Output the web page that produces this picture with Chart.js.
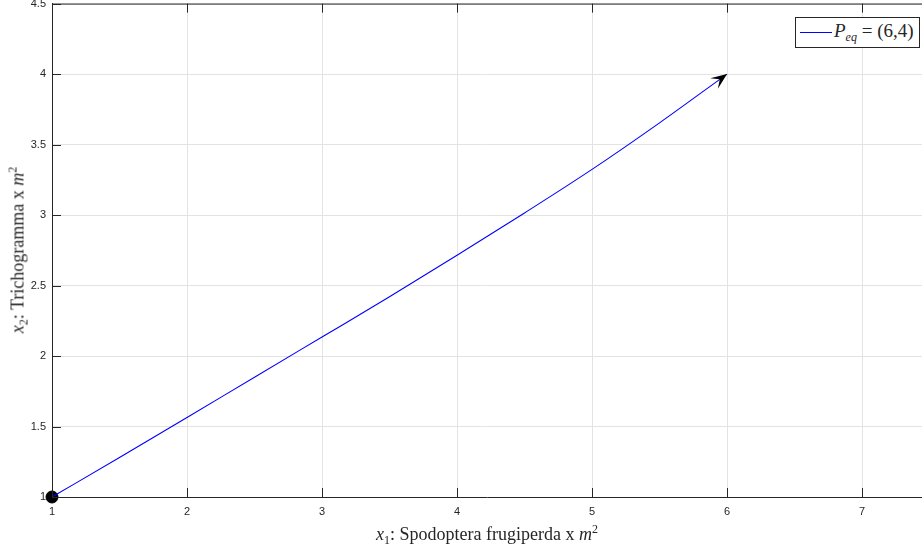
<!DOCTYPE html>
<html>
<head>
<meta charset="utf-8">
<script src="https://cdn.jsdelivr.net/npm/chart.js@4.4.1/dist/chart.umd.min.js"></script>
<style>
  html, body { margin: 0; padding: 0; background: #fff; overflow: hidden; }
  #wrap { position: relative; width: 922px; height: 548px; overflow: hidden; }
  canvas { position: absolute; left: 0; top: -9px; }
  .tex { position: absolute; font-family: "Liberation Serif", "DejaVu Serif", serif; color: #262626; white-space: nowrap; }
  #xtitle { left: 0; width: 974px; top: 524px; text-align: center; font-size: 18px; }
  #ytitle { left: 18px; top: 250px; font-size: 18px; transform: translate(-50%, -50%) rotate(-90deg); }
  #legend { left: 795px; top: 17px; width: 125px; height: 31px; border: 1px solid #262626; background: #fff; box-sizing: border-box; font-size: 19px; line-height: 28px; }
  #legend .ln { position: absolute; left: 4px; top: 14px; width: 32px; height: 1px; background: #0000ff; display: block; }
  #legend .tx { position: absolute; left: 38px; top: -1px; }
  sub { font-size: 12px; vertical-align: -4px; line-height: 0; }
  sup { font-size: 12px; vertical-align: 7px; line-height: 0; }
</style>
</head>
<body>
<div id="wrap">
  <canvas id="c" width="929" height="557"></canvas>
  <div id="xtitle" class="tex"><i>x</i><sub>1</sub>: Spodoptera frugiperda x <i>m</i><sup>2</sup></div>
  <div id="ytitle" class="tex"><i>x</i><sub>2</sub>: Trichogramma x <i>m</i><sup>2</sup></div>
  <div id="legend" class="tex"><span class="ln"></span><span class="tx"><i>P</i><sub><i>eq</i></sub> = (6,4)</span></div>
</div>
<script>
// ---- data ----
const x1Values = [1, 1.5, 2, 2.5, 3, 3.5, 4, 4.5, 5, 5.5, 6];
const x2Values = [1, 1.28, 1.564, 1.85, 2.135, 2.42, 2.715, 3.015, 3.324, 3.654, 4];
const startPoint = [1, 1];
const xTicks = [1, 2, 3, 4, 5, 6, 7];
const yTicks = [1, 1.5, 2, 2.5, 3, 3.5, 4, 4.5];
const xRange = [1, 7.444];
const yRange = [1, 4.5];

const axisColor = '#262626';
const gridColor = '#e3e3e3';

const boxPlugin = {
  id: 'boxPlugin',
  afterDatasetsDraw(chart) {
    const ctx = chart.ctx;
    const a = chart.chartArea;
    const xs = chart.scales.x, ys = chart.scales.y;
    ctx.save();
    ctx.strokeStyle = axisColor;
    ctx.lineWidth = 1;
    ctx.beginPath();
    ctx.moveTo(a.left, a.top + 0.5);
    ctx.lineTo(a.right, a.top + 0.5);
    const tl = 9;
    xTicks.forEach(v => {
      const px = Math.round(xs.getPixelForValue(v)) + 0.5;
      ctx.moveTo(px, a.bottom); ctx.lineTo(px, a.bottom - tl);
      ctx.moveTo(px, a.top); ctx.lineTo(px, a.top + tl);
    });
    yTicks.forEach(v => {
      const py = Math.round(ys.getPixelForValue(v)) + 0.5;
      ctx.moveTo(a.left, py); ctx.lineTo(a.left + tl, py);
    });
    ctx.stroke();

    // arrowhead at the end of the trajectory
    const n = x1Values.length;
    const ex = xs.getPixelForValue(x1Values[n - 1]);
    const ey = ys.getPixelForValue(x2Values[n - 1]);
    const bx = xs.getPixelForValue(x1Values[n - 2]);
    const by = ys.getPixelForValue(x2Values[n - 2]);
    const ang = Math.atan2(ey - by, ex - bx);
    const L = 16, W = 6.5, notch = 9;
    ctx.translate(ex, ey);
    ctx.rotate(ang);
    ctx.fillStyle = '#000';
    ctx.beginPath();
    ctx.moveTo(0, 0);
    ctx.lineTo(-L, -W);
    ctx.lineTo(-notch, 0);
    ctx.lineTo(-L, W);
    ctx.closePath();
    ctx.fill();
    ctx.restore();
  }
};

new Chart(document.getElementById('c'), {
  type: 'scatter',
  data: {
    datasets: [
      {
        label: 'Peq',
        data: x1Values.map((v, i) => ({ x: v, y: x2Values[i] })),
        showLine: true,
        borderColor: '#0000ff',
        borderWidth: 1.1,
        pointRadius: 0,
        cubicInterpolationMode: 'monotone',
        fill: false
      },
      {
        label: 'start',
        data: [{ x: startPoint[0], y: startPoint[1] }],
        pointRadius: 6,
        pointBackgroundColor: '#000',
        pointBorderColor: '#000',
        showLine: false,
        clip: false
      }
    ]
  },
  options: {
    responsive: false,
    animation: false,
    layout: { padding: { top: 4, right: 0, left: 0, bottom: 0 } },
    plugins: { legend: { display: false }, tooltip: { enabled: false } },
    scales: {
      x: {
        type: 'linear',
        min: xRange[0], max: xRange[1],
        afterBuildTicks: s => { s.ticks = xTicks.map(v => ({ value: v })); },
        afterFit: s => { s.height = 51; },
        grid: { color: gridColor, drawTicks: false },
        border: { color: axisColor, width: 1 },
        ticks: { color: axisColor, padding: 8, font: { family: 'Liberation Sans, Arial, sans-serif', size: 11 }, callback: v => String(v) }
      },
      y: {
        type: 'linear',
        min: yRange[0], max: yRange[1],
        afterBuildTicks: s => { s.ticks = yTicks.map(v => ({ value: v })); },
        afterFit: s => { s.width = 52; },
        grid: { color: gridColor, drawTicks: false },
        border: { color: axisColor, width: 1 },
        ticks: { color: axisColor, padding: 6, font: { family: 'Liberation Sans, Arial, sans-serif', size: 11 }, callback: v => String(v) }
      }
    }
  },
  plugins: [boxPlugin]
});
</script>
</body>
</html>
